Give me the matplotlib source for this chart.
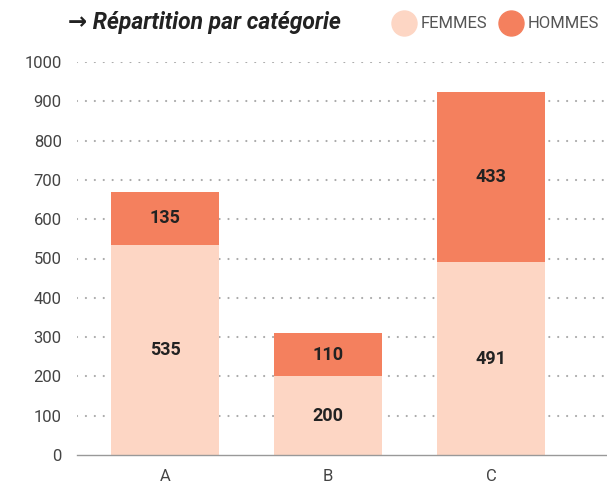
import numpy as np
import matplotlib.pyplot as plt
from matplotlib.lines import Line2D

# Data
categories = ["A", "B", "C"]
femmes = [535, 200, 491]
hommes = [135, 110, 433]
yticks = [0, 100, 200, 300, 400, 500, 600, 700, 800, 900, 1000]

col_f = "#FDD6C4"
col_h = "#F4805E"

plt.rcParams['font.family'] = ['Roboto', 'DejaVu Sans']

fig = plt.figure(figsize=(6.07, 4.87), dpi=100)
ax = fig.add_axes([77 / 607, 1 - 455 / 487, 530 / 607, 393 / 487])

x = np.arange(len(categories))
w = 0.66
ax.bar(x, femmes, width=w, color=col_f, zorder=2)
ax.bar(x, hommes, width=w, bottom=femmes, color=col_h, zorder=2)

# value labels in the middle of each segment
for i in range(len(categories)):
    ax.text(x[i], femmes[i] / 2, str(femmes[i]), ha='center', va='center',
            fontsize=13, fontweight='bold', color='#222222', zorder=3)
    ax.text(x[i], femmes[i] + hommes[i] / 2, str(hommes[i]), ha='center', va='center',
            fontsize=13, fontweight='bold', color='#222222', zorder=3)

ax.set_xlim(-0.54, 2.71)
ax.set_ylim(0, 1000)
ax.set_xticks(x)
ax.set_xticklabels(categories)
ax.set_yticks(yticks)
ax.tick_params(axis='both', length=0, labelsize=12, colors='#444444')
ax.tick_params(axis='y', pad=11)
ax.tick_params(axis='x', pad=10)

for s in ['top', 'right', 'left']:
    ax.spines[s].set_visible(False)
ax.spines['bottom'].set_color('#999999')
ax.spines['bottom'].set_linewidth(1)

for t in yticks[1:]:
    ax.axhline(t, color='#aaaaaa', linewidth=1.6, linestyle=(0, (0.01, 4)),
               dash_capstyle='round', zorder=1)

# title and legend
fig.text(68 / 607, 1 - 23 / 487, "→ Répartition par catégorie", fontsize=16.5,
         fontweight='bold', fontstyle='italic', color='#222222', va='center')

handles = [Line2D([], [], marker='o', linestyle='', markersize=18, color=col_f),
           Line2D([], [], marker='o', linestyle='', markersize=18, color=col_h)]
fig.legend(handles, ["FEMMES", "HOMMES"], loc='center right',
           bbox_to_anchor=(1.0, 1 - 24 / 487), ncol=2, frameon=False,
           prop={'size': 12}, labelcolor='#555555',
           handletextpad=0.4, columnspacing=0.8, handlelength=1.2,
           borderaxespad=0.1)

fig.savefig("out.png", dpi=100)
